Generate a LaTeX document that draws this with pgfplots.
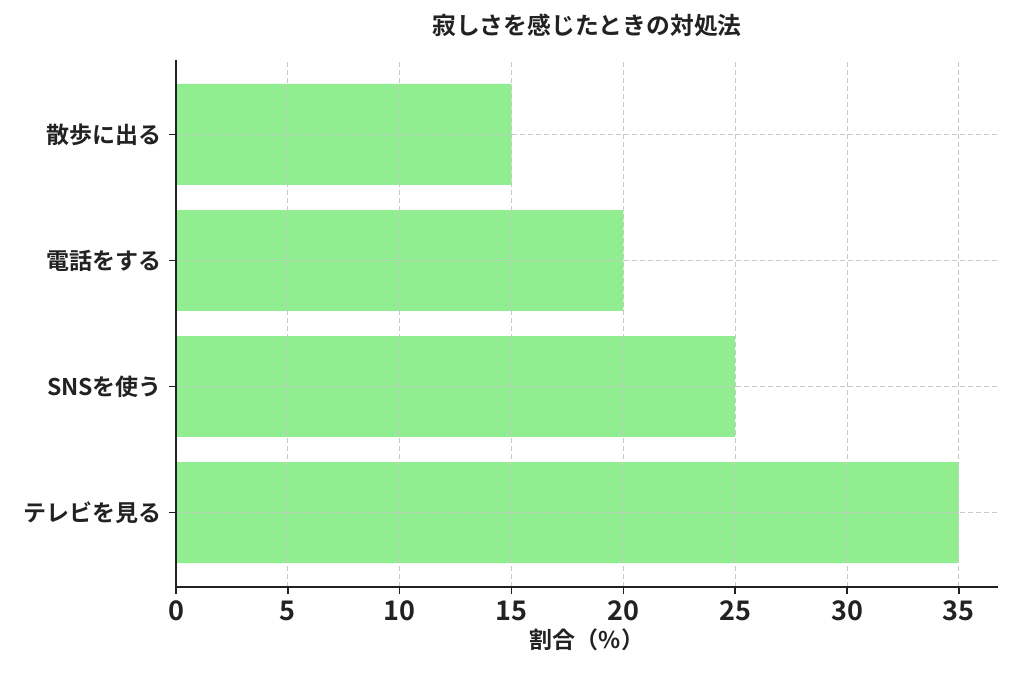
\documentclass[border=0pt]{standalone}
\usepackage{pgfplots}
\pgfplotsset{compat=1.18}
\usepackage{fontspec}
\setmainfont{Noto Sans CJK JP Bold}
\definecolor{barg}{HTML}{90EE90}
\definecolor{txt}{HTML}{222222}
\definecolor{gridc}{HTML}{C8C8C8}
\begin{document}
\begin{tikzpicture}
\useasboundingbox (0,0) rectangle (512bp,341.5bp);
\begin{axis}[
  at={(88bp,48bp)}, anchor=south west,
  scale only axis, width=411bp, height=263.5bp,
  xmin=0, xmax=36.75, ymin=-0.59, ymax=3.59,
  axis lines*=left,
  axis line style={line width=1bp, color=txt, -},
  xtick={0,5,...,35},
  ytick={0,1,2,3},
  yticklabels={テレビを見る,SNSを使う,電話をする,散歩に出る},
  tick align=outside,
  major tick length=3.5bp,
  tick style={line width=0.8bp, color=txt},
  xticklabel style={font=\fontsize{13.5bp}{15bp}\selectfont, color=txt},
  yticklabel style={font=\fontsize{11.5bp}{13bp}\selectfont, color=txt},
  /pgf/number format/assume math mode=true,
  grid=major,
  major grid style={gridc, line width=0.5bp, dash pattern=on 2.5bp off 1.5bp},
  axis on top,
  title={寂しさを感じたときの対処法},
  title style={anchor=center, at={(axis description cs:0.5,1)}, yshift=11.5bp, font=\fontsize{11.9bp}{13bp}\selectfont, color=txt},
  xlabel={割合（\%）},
  xlabel style={anchor=center, at={(axis description cs:0.5,0)}, yshift=-26.5bp, font=\fontsize{11.5bp}{13bp}\selectfont, color=txt},
]
\addplot[xbar, fill=barg, draw=none, bar width=0.8, bar shift=0pt] coordinates {(35,0) (25,1) (20,2) (15,3)};
\end{axis}
\end{tikzpicture}
\end{document}
